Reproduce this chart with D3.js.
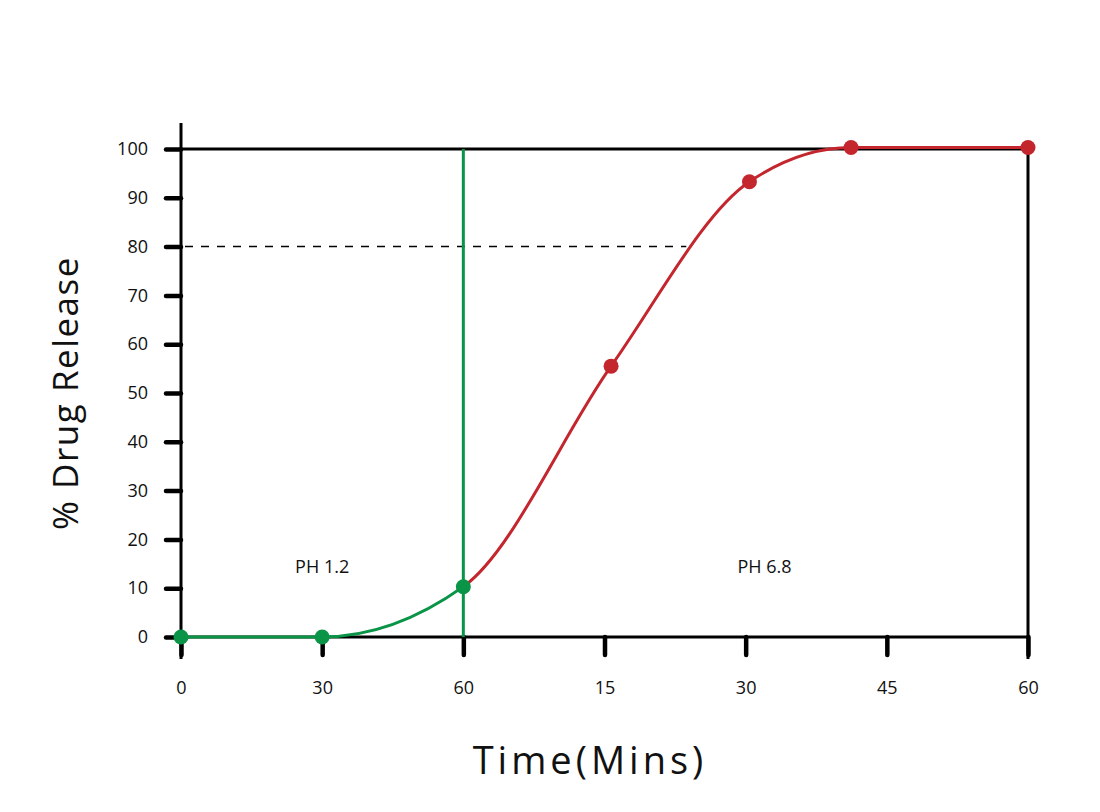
<!DOCTYPE html>
<html>
<head>
<meta charset="utf-8">
<script src="https://cdn.jsdelivr.net/npm/d3@7"></script>
<style>
  body { margin: 0; background: #fff; }
  svg { display: block; font-family: "Open Sans", sans-serif; }
</style>
</head>
<body>
<svg id="chart" width="1100" height="812"></svg>
<script>
// ---- data ----
// x is cumulative minutes: 0-60 in pH 1.2, then 60 + minutes in pH 6.8
const greenPoints = [
  { t: 0, v: 0 },
  { t: 30, v: 0 },
  { t: 60, v: 10.3 }
];
const redPoints = [
  { t: 60, v: 10.3 },
  { t: 75.7, v: 55.5 },
  { t: 90.4, v: 93.3 },
  { t: 101.2, v: 100.3 },
  { t: 120, v: 100.3 }
];
const xTickValues = [0, 30, 60, 75, 90, 105, 120];
const xTickLabels = ["0", "30", "60", "15", "30", "45", "60"];
const yTickValues = [0, 10, 20, 30, 40, 50, 60, 70, 80, 90, 100];
const phaseLabels = [
  { t: 30, v: 13.1, text: "PH 1.2" },
  { t: 92, v: 13.1, text: "PH 6.8" }
];
const switchTime = 60;
const targetLevel = 80;

(function () {
const GREEN = "#0a9447";
const RED = "#c4262e";

const svg = d3.select("#chart");
const mLeft = 181, mRight = 1028, mTop = 149, mBottom = 637;
const W = mRight - mLeft;

const x = d3.scaleLinear().domain([0, 60, 120]).range([mLeft, mLeft + W / 3, mRight]);
const y = d3.scaleLinear().domain([0, 100]).range([mBottom, mTop]);

// y axis ticks
const yAxis = d3.axisLeft(y).tickValues(yTickValues).tickSize(16).tickSizeOuter(0).tickPadding(17);
const gy = svg.append("g").attr("transform", `translate(${mLeft},0)`).call(yAxis);
gy.select(".domain").remove();
gy.selectAll(".tick line").attr("stroke", "#000").attr("stroke-width", 4.5).attr("stroke-linecap", "round").attr("x2", -15);
gy.selectAll(".tick text").attr("font-size", 18).attr("fill", "#111").attr("font-family", "Open Sans");

// x axis ticks
const xAxis = d3.axisBottom(x).tickValues(xTickValues).tickSize(18).tickSizeOuter(0).tickPadding(26)
  .tickFormat((d, i) => xTickLabels[i]);
const gx = svg.append("g").attr("transform", `translate(0,${mBottom})`).call(xAxis);
gx.select(".domain").remove();
gx.selectAll(".tick line").attr("stroke", "#000").attr("stroke-width", 4.5).attr("stroke-linecap", "round");
gx.selectAll(".tick text").attr("font-size", 18).attr("fill", "#111").attr("font-family", "Open Sans");

// frame lines
svg.append("line").attr("x1", mLeft).attr("x2", mLeft).attr("y1", mTop - 26).attr("y2", mBottom + 22)
  .attr("stroke", "#000").attr("stroke-width", 3);
svg.append("line").attr("x1", mRight).attr("x2", mRight).attr("y1", y(100)).attr("y2", mBottom + 22)
  .attr("stroke", "#000").attr("stroke-width", 3);
svg.append("line").attr("x1", mLeft).attr("x2", mRight).attr("y1", y(100)).attr("y2", y(100))
  .attr("stroke", "#000").attr("stroke-width", 3);
svg.append("line").attr("x1", mLeft).attr("x2", mRight).attr("y1", y(0)).attr("y2", y(0))
  .attr("stroke", "#000").attr("stroke-width", 3);

// combined smooth curve, split by colour via clip
const allPoints = greenPoints.concat(redPoints.slice(1));
const line = d3.line().x(d => x(d.t)).y(d => y(d.v)).curve(d3.curveMonotoneX);
const defs = svg.append("defs");
defs.append("clipPath").attr("id", "clipG").append("rect")
  .attr("x", 0).attr("y", 0).attr("width", x(switchTime)).attr("height", 812);
defs.append("clipPath").attr("id", "clipR").append("rect")
  .attr("x", x(switchTime)).attr("y", 0).attr("width", 1100).attr("height", 812);

const redPath = svg.append("path").datum(allPoints).attr("d", line).attr("fill", "none")
  .attr("stroke", RED).attr("stroke-width", 3).attr("clip-path", "url(#clipR)");

// dashed target line to where the curve crosses the target level
const node = redPath.node();
const total = node.getTotalLength();
let lo = 0, hi = total;
const yt = y(targetLevel);
for (let k = 0; k < 40; k++) {
  const mid = (lo + hi) / 2;
  const p = node.getPointAtLength(mid);
  if (p.y > yt) lo = mid; else hi = mid;
}
const cross = node.getPointAtLength((lo + hi) / 2);
svg.append("line").attr("x1", mLeft + 4).attr("x2", cross.x - 4).attr("y1", yt).attr("y2", yt)
  .attr("stroke", "#000").attr("stroke-width", 1.5).attr("stroke-dasharray", "8,8");

// vertical switch line
svg.append("line").attr("x1", x(switchTime)).attr("x2", x(switchTime))
  .attr("y1", y(0)).attr("y2", y(100)).attr("stroke", GREEN).attr("stroke-width", 3);

svg.append("path").datum(allPoints).attr("d", line).attr("fill", "none")
  .attr("stroke", GREEN).attr("stroke-width", 3).attr("clip-path", "url(#clipG)");
redPath.raise();

// points
svg.selectAll(".rp").data(redPoints.slice(1)).enter().append("circle")
  .attr("cx", d => x(d.t)).attr("cy", d => y(d.v)).attr("r", 7.5).attr("fill", RED);
svg.selectAll(".gp").data(greenPoints).enter().append("circle")
  .attr("cx", d => x(d.t)).attr("cy", d => y(d.v)).attr("r", 7.5).attr("fill", GREEN);

// phase labels
svg.selectAll(".ph").data(phaseLabels).enter().append("text")
  .attr("x", d => x(d.t)).attr("y", d => y(d.v)).attr("text-anchor", "middle")
  .attr("font-size", 18).attr("fill", "#111").text(d => d.text);

// axis titles
svg.append("text").attr("x", 590).attr("y", 774).attr("text-anchor", "middle")
  .attr("font-size", 38).attr("letter-spacing", 4).attr("fill", "#111").text("Time(Mins)");
svg.append("text").attr("transform", "translate(78,393) rotate(-90)").attr("text-anchor", "middle")
  .attr("font-size", 35).attr("letter-spacing", 1.5).attr("fill", "#111").text("% Drug Release");
})();
</script>
</body>
</html>
